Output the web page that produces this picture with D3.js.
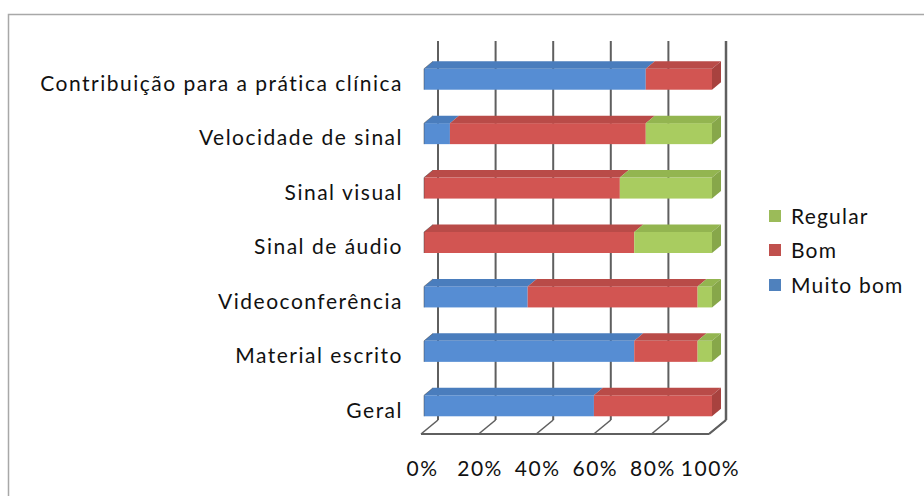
<!DOCTYPE html>
<html><head><meta charset="utf-8">
<script src="https://cdn.jsdelivr.net/npm/d3@7"></script>
<style>
html,body{margin:0;padding:0;background:#fff;}
svg text{font-family:Lato,"Open Sans",sans-serif;fill:#111;}
</style></head>
<body><svg id="c" width="924" height="496"></svg>
<script>
const categories = ["Contribuição para a prática clínica","Velocidade de sinal","Sinal visual","Sinal de áudio","Videoconferência","Material escrito","Geral"];
const seriesNames = ["Muito bom","Bom","Regular"];
const muitoBom = [77, 9, 0, 0, 36, 73, 59];
const bom      = [23, 68, 68, 73, 59, 22, 41];
const regular  = [0, 23, 32, 27, 5, 5, 0];
const tickValues = [0,20,40,60,80,100];
const tickLabels = ["0%","20%","40%","60%","80%","100%"];

const front = {blue:"#568dd3", red:"#d25552", green:"#a9cc60"};
const top_  = {blue:"#4a7dbd", red:"#b94b48", green:"#93b550"};
const side  = {blue:"#4572ac", red:"#a8423f", green:"#87a74a"};
const legendCol = {blue:"#4f81bd", red:"#c0504d", green:"#9bbb59"};
const keys = ["blue","red","green"];

const svg = d3.select("#c");
// chart border
svg.append("rect").attr("x",8.5).attr("y",14.5).attr("width",940).attr("height",500)
  .attr("fill","none").attr("stroke","#a8a8a8").attr("stroke-width",1.5);

const W = 288;
const x = d3.scaleLinear().domain([0,100]).range([0,W]);
const X0 = 421, YF = 434;         // floor front-left
const DX = 17, DY = -14;          // depth vector
const gridTop = 41;
const xFront = d3.scaleLinear().domain([0,100]).range([X0, X0+W]);
const xBack  = d3.scaleLinear().domain([0,100]).range([X0+DX, X0+W+DX]);

const y = d3.scaleBand().domain(categories).range([56, 437]).paddingInner(0).paddingOuter(0);
const barH = 21;
const bdx = 9, bdy = -7.5;       // bar depth
const barX = v => X0 + 3 + x(v);

const gridColor = "#5f5f5f";
// back wall gridlines
svg.append("g").selectAll("line").data(tickValues).join("line")
  .attr("x1",d=>xBack(d)).attr("x2",d=>xBack(d))
  .attr("y1",gridTop).attr("y2",YF+DY)
  .attr("stroke",gridColor).attr("stroke-width",d=>d===100?2.5:2);
// floor diagonal lines
svg.append("g").selectAll("line").data(tickValues).join("line")
  .attr("x1",d=>xFront(d)).attr("y1",YF)
  .attr("x2",d=>xBack(d)).attr("y2",YF+DY)
  .attr("stroke",gridColor).attr("stroke-width",1.6);
// floor front edge
svg.append("line").attr("x1",xFront(0)).attr("x2",xFront(100)).attr("y1",YF).attr("y2",YF)
  .attr("stroke",gridColor).attr("stroke-width",2.2);
svg.append("line").attr("x1",xFront(100)).attr("y1",YF).attr("x2",xBack(100)).attr("y2",YF+DY)
  .attr("stroke",gridColor).attr("stroke-width",2.2);

// bars
const data = categories.map((c,i)=>{
  const vals=[muitoBom[i],bom[i],regular[i]];
  let acc=0; const segs=[];
  vals.forEach((v,k)=>{ if(v>0){ segs.push({cat:c,key:keys[k],x0:acc,x1:acc+v}); } acc+=v; });
  segs[segs.length-1].last=true;
  return segs;
}).flat();

const gBars = svg.append("g");
const fy = d => y(d.cat) + y.bandwidth()/2 - 4 - barH/2;
data.forEach(d=>{
  const x0=barX(d.x0), x1=barX(d.x1), t=fy(d), b=t+barH;
  const g=gBars.append("g");
  g.append("rect").attr("x",x0).attr("y",t).attr("width",x1-x0).attr("height",barH).attr("fill",front[d.key]);
  g.append("path").attr("d",`M${x0},${t}L${x0+bdx},${t+bdy}L${x1+bdx},${t+bdy}L${x1},${t}Z`).attr("fill",top_[d.key]);
  if(d.last){
    g.append("path").attr("d",`M${x1},${t}L${x1+bdx},${t+bdy}L${x1+bdx},${b+bdy}L${x1},${b}Z`).attr("fill",side[d.key]);
  }
});
// faint outline on left ends
categories.forEach(c=>{
  const t=fy({cat:c});
  gBars.append("path").attr("d",`M${barX(0)},${t+barH}L${barX(0)},${t}L${barX(0)+bdx},${t+bdy}`)
    .attr("fill","none").attr("stroke","rgba(60,60,60,0.45)").attr("stroke-width",1);
});

// category axis
const gy = svg.append("g").attr("transform","translate(403,0)")
  .call(d3.axisLeft(y).tickSize(0).tickPadding(0));
gy.select(".domain").remove();
gy.selectAll("text").attr("font-size",21).attr("letter-spacing","1.5px")
  .attr("font-family","Lato").attr("fill","#111").attr("dy","0.37em");

// value axis labels
const gx = svg.append("g").attr("transform","translate(1,461)")
  .call(d3.axisBottom(xFront).tickValues(tickValues).tickFormat((d,i)=>tickLabels[i]).tickSize(0).tickPadding(0));
gx.select(".domain").remove();
gx.selectAll("text").attr("font-size",21).attr("letter-spacing","1.5px")
  .attr("font-family","Lato").attr("fill","#111");

// legend
const legendItems = [
  {name:seriesNames[2], key:"green", y:216},
  {name:seriesNames[1], key:"red", y:250},
  {name:seriesNames[0], key:"blue", y:285}
];
const lg = svg.append("g").selectAll("g").data(legendItems).join("g")
  .attr("transform",d=>`translate(769,${d.y})`);
lg.append("rect").attr("x",0).attr("y",-6).attr("width",12).attr("height",12).attr("fill",d=>legendCol[d.key]);
lg.append("text").attr("x",22).attr("dy","0.36em").attr("font-size",21).attr("letter-spacing","1.2px")
  .text(d=>d.name);
</script></body></html>
